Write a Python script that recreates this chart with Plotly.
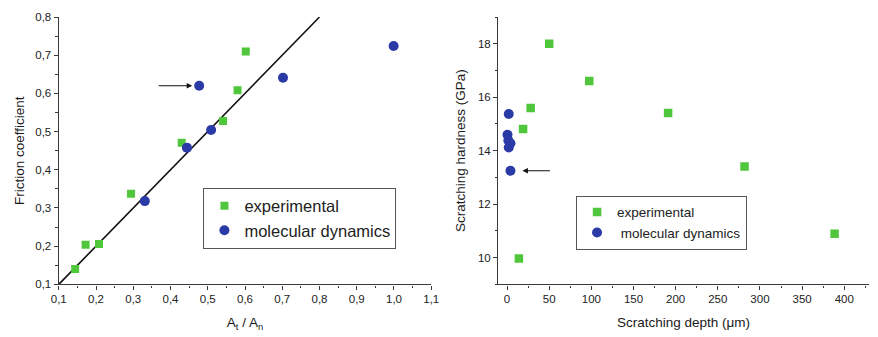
import plotly.graph_objects as go

# Friction coefficient vs. area ratio
exp_ratio = [0.144, 0.172, 0.208, 0.294, 0.430, 0.541, 0.580, 0.602]
exp_friction = [0.140, 0.204, 0.206, 0.337, 0.471, 0.528, 0.608, 0.710]
md_ratio = [0.331, 0.444, 0.477, 0.509, 0.702, 0.999]
md_friction = [0.318, 0.458, 0.620, 0.504, 0.641, 0.724]
fit_ratio = [0.1, 0.8]
fit_friction = [0.1, 0.8]

# Scratching hardness vs. scratching depth
exp_depth = [14, 19, 28, 50, 97.5, 191, 281.7, 388.5]
exp_hardness = [9.97, 14.81, 15.6, 18.0, 16.61, 15.41, 13.41, 10.89]
md_depth = [2, 0.5, 1.5, 4, 2, 4]
md_hardness = [15.37, 14.6, 14.38, 14.28, 14.12, 13.25]

left_xticks = [0.1, 0.2, 0.3, 0.4, 0.5, 0.6, 0.7, 0.8, 0.9, 1.0, 1.1]
left_yticks = [0.1, 0.2, 0.3, 0.4, 0.5, 0.6, 0.7, 0.8]
right_xticks = [0, 50, 100, 150, 200, 250, 300, 350, 400]
right_yticks = [10, 12, 14, 16, 18]

GREEN = "#50c63c"
BLUE = "#2a3aa6"
AXIS = "#3a3a3a"
FONT = "Liberation Sans, Arial, sans-serif"

fig = go.Figure()

fig.add_trace(go.Scatter(x=fit_ratio, y=fit_friction, mode="lines",
                         line=dict(color="#111111", width=1.6),
                         showlegend=False, xaxis="x", yaxis="y"))
fig.add_trace(go.Scatter(x=exp_ratio, y=exp_friction, mode="markers", name="experimental",
                         marker=dict(symbol="square", size=8, color=GREEN),
                         xaxis="x", yaxis="y", legend="legend"))
fig.add_trace(go.Scatter(x=md_ratio, y=md_friction, mode="markers", name="molecular dynamics",
                         marker=dict(symbol="circle", size=10, color=BLUE),
                         xaxis="x", yaxis="y", legend="legend"))

fig.add_trace(go.Scatter(x=exp_depth, y=exp_hardness, mode="markers", name="experimental",
                         marker=dict(symbol="square", size=8.5, color=GREEN),
                         xaxis="x2", yaxis="y2", legend="legend2"))
fig.add_trace(go.Scatter(x=md_depth, y=md_hardness, mode="markers", name=" molecular dynamics",
                         marker=dict(symbol="circle", size=10, color=BLUE),
                         xaxis="x2", yaxis="y2", legend="legend2"))

ydom = [0.1435, 0.966]
tickfont = dict(family=FONT, size=11.5, color="#222222")
titlefont = dict(family=FONT, size=13.5, color="#1a1a1a")


def main_axis(rng, vals, minor_dtick, minor_tick0, domain=None, anchor=None, title=None,
              fmt=None, standoff=None):
    ax = dict(range=rng, tickmode="array", tickvals=vals, ticks="outside", ticklen=4,
              tickwidth=1.2, tickcolor=AXIS, showline=True, linecolor=AXIS, linewidth=1.4,
              showgrid=False, zeroline=False, tickfont=tickfont,
              minor=dict(ticks="outside", ticklen=2.5, tickwidth=1.1, tickcolor=AXIS,
                         dtick=minor_dtick, tick0=minor_tick0, showgrid=False))
    if domain is not None:
        ax["domain"] = domain
    if anchor is not None:
        ax["anchor"] = anchor
    if title is not None:
        ax["title"] = dict(text=title, font=titlefont, standoff=standoff)
    if fmt is not None:
        ax["tickformat"] = fmt
    return ax


def mirror_axis(over, side, anchor, rng, vals, minor_dtick, minor_tick0):
    return dict(overlaying=over, side=side, anchor=anchor, range=rng, tickmode="array",
                tickvals=vals, ticks="inside", ticklen=4, tickwidth=1.2, tickcolor=AXIS,
                showticklabels=False, showline=True, linecolor=AXIS, linewidth=1.4,
                showgrid=False, zeroline=False,
                minor=dict(ticks="inside", ticklen=2.5, tickwidth=1.1, tickcolor=AXIS,
                           dtick=minor_dtick, tick0=minor_tick0, showgrid=False))


lx_rng = [0.1, 1.1]
ly_rng = [0.1, 0.8]
rx_rng = [-10.5, 429]
ry_rng = [9, 19]

fig.update_layout(
    width=878, height=337,
    margin=dict(l=0, r=0, t=0, b=0),
    paper_bgcolor="white", plot_bgcolor="white",
    separators=",.",
    font=dict(family=FONT),
    xaxis=main_axis(lx_rng, left_xticks, 0.05, 0.1, domain=[0.0589, 0.491], anchor="y",
                    title="A<sub>t</sub> / A<sub>n</sub>", fmt=".1f", standoff=13),
    yaxis=main_axis(ly_rng, left_yticks, 0.05, 0.1, domain=ydom, anchor="x",
                    title="Friction coefficient", fmt=".1f", standoff=7),
    xaxis2=main_axis(rx_rng, right_xticks, 25, 0, domain=[0.5687, 0.9985], anchor="y2",
                     title="Scratching depth (\u03bcm)", standoff=13),
    yaxis2=main_axis(ry_rng, right_yticks, 1, 9, domain=ydom, anchor="x2",
                     title="Scratching hardness (GPa)", standoff=9),
    xaxis3=mirror_axis("x", "top", "y", lx_rng, left_xticks, 0.05, 0.1),
    yaxis3=mirror_axis("y", "right", "x", ly_rng, left_yticks, 0.05, 0.1),
    xaxis4=mirror_axis("x2", "top", "y2", rx_rng, right_xticks, 25, 0),
    yaxis4=mirror_axis("y2", "right", "x2", ry_rng, right_yticks, 1, 9),
    legend=dict(x=0.2267, y=0.4411, xanchor="left", yanchor="top",
                bordercolor="#555555", borderwidth=1, bgcolor="white",
                font=dict(family=FONT, size=16.5, color="#222222"),
                tracegroupgap=0, itemwidth=30),
    legend2=dict(x=0.659, y=0.4163, xanchor="left", yanchor="top",
                 bordercolor="#555555", borderwidth=1, bgcolor="white",
                 font=dict(family=FONT, size=13.5, color="#222222"),
                 tracegroupgap=0, itemwidth=30),
)

# Arrows marking one molecular-dynamics point in each panel
hl_left = 2
hl_right = 5
fig.add_annotation(x=md_ratio[hl_left], y=md_friction[hl_left], xref="x", yref="y",
                   ax=-42, ay=0, text="", showarrow=True, arrowhead=2, arrowsize=1,
                   arrowwidth=1.1, arrowcolor="#111111", standoff=7)
fig.add_annotation(x=md_depth[hl_right], y=md_hardness[hl_right], xref="x2", yref="y2",
                   ax=41, ay=0, text="", showarrow=True, arrowhead=2, arrowsize=1,
                   arrowwidth=1.1, arrowcolor="#111111", standoff=12)

fig.write_html("out.html")
